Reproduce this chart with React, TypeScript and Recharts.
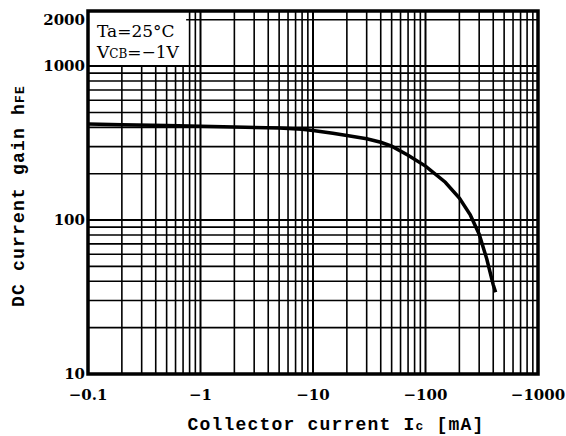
import React from "react";
import { LineChart, Line, XAxis, YAxis, ReferenceLine, ReferenceArea } from "recharts";

// collector current (magnitude, mA) and DC current gain
const currentMa = [0.1, 0.2, 0.5, 1, 2, 5, 8, 10, 15, 20, 30, 40, 50, 70, 100, 150, 200, 250, 300, 350, 400, 420];
const gain = [420, 416, 411, 407, 402, 396, 389, 382, 366, 354, 337, 320, 302, 264, 224, 176, 139, 108, 81, 56, 38, 34];

const xTicks = [0.1, 1, 10, 100, 1000];
const yTicks = [10, 100, 1000, 2000];
const xGrid = [0.2, 0.3, 0.4, 0.5, 0.6, 0.7, 0.8, 0.9, 1, 2, 3, 4, 5, 6, 7, 8, 9, 10, 20, 30, 40, 50, 60, 70, 80, 90, 100, 200, 300, 400, 500, 600, 700, 800, 900];
const yGrid = [20, 30, 40, 50, 60, 70, 80, 90, 100, 200, 300, 400, 500, 600, 700, 800, 900, 1000];

const yTop = 2280;
const noteRight = 0.745; // right edge of the condition note box

const data = currentMa.map((ic, i) => ({ ic, hfe: gain[i] }));

const tickFont = { fontFamily: "DejaVu Serif", fontWeight: "bold" as const, fontSize: 15, fill: "#000" };
const titleFont = { fontFamily: "Liberation Mono", fontWeight: "bold" as const, fontSize: 18, fill: "#000", letterSpacing: 1.2 };

const XTick = (props: any) => {
  const { x, y, payload } = props;
  return (
    <text x={x} y={y + 26} textAnchor="middle" {...tickFont}>
      {"\u2212" + payload.value}
    </text>
  );
};

const YTick = (props: any) => {
  const { x, y, payload } = props;
  return (
    <text x={x - 3} y={y + 5} textAnchor="end" {...tickFont}>
      {payload.value}
    </text>
  );
};

export default function App() {
  return (
    <>
      <style>{"body{margin:0}"}</style>
      <LineChart width={566} height={436} data={data} margin={{ top: 11, right: 28, left: 0, bottom: 0 }}>
        <XAxis
          dataKey="ic"
          type="number"
          scale="log"
          domain={[0.1, 1000]}
          ticks={xTicks}
          allowDataOverflow
          axisLine={false}
          tickLine={false}
          tickSize={0}
          tickMargin={0}
          height={62}
          tick={<XTick />}
        />
        <YAxis
          type="number"
          scale="log"
          domain={[10, yTop]}
          ticks={yTicks}
          allowDataOverflow
          axisLine={false}
          tickLine={false}
          tickSize={0}
          tickMargin={0}
          width={88}
          tick={<YTick />}
        />
        {xGrid.map((v) => (
          <ReferenceLine
            key={"x" + v}
            segment={[{ x: v, y: 10 }, { x: v, y: v < noteRight ? 1000 : yTop }]}
            stroke="#000"
            strokeWidth={v === 1 || v === 10 || v === 100 ? 2 : 1.6}
          />
        ))}
        {yGrid.map((v) => (
          <ReferenceLine key={"y" + v} y={v} stroke="#000" strokeWidth={v === 100 || v === 1000 ? 2 : 1.6} />
        ))}
        <ReferenceLine segment={[{ x: noteRight, y: 2000 }, { x: 1000, y: 2000 }]} stroke="#000" strokeWidth={1.6} />
        <ReferenceArea x1={0.1} x2={1000} y1={10} y2={yTop} fill="none" stroke="#000" strokeWidth={3.5} ifOverflow="visible" />
        <Line dataKey="hfe" type="linear" stroke="#000" strokeWidth={3.5} dot={false} isAnimationActive={false} />
        <text x={97} y={37} fontFamily="DejaVu Serif" fontSize={17} fill="#000">
          Ta=25°C
        </text>
        <text x={97} y={58} fontFamily="DejaVu Serif" fontSize={17} fill="#000">
          V<tspan fontSize={12}>CB</tspan>={"\u2212"}1V
        </text>
        <text x={336} y={430} textAnchor="middle" {...titleFont}>
          Collector current I<tspan fontSize={13}>c</tspan> [mA]
        </text>
        <text x={24} y={196} textAnchor="middle" transform="rotate(-90 24 196)" {...titleFont}>
          DC current gain h<tspan fontSize={13}>FE</tspan>
        </text>
      </LineChart>
    </>
  );
}
